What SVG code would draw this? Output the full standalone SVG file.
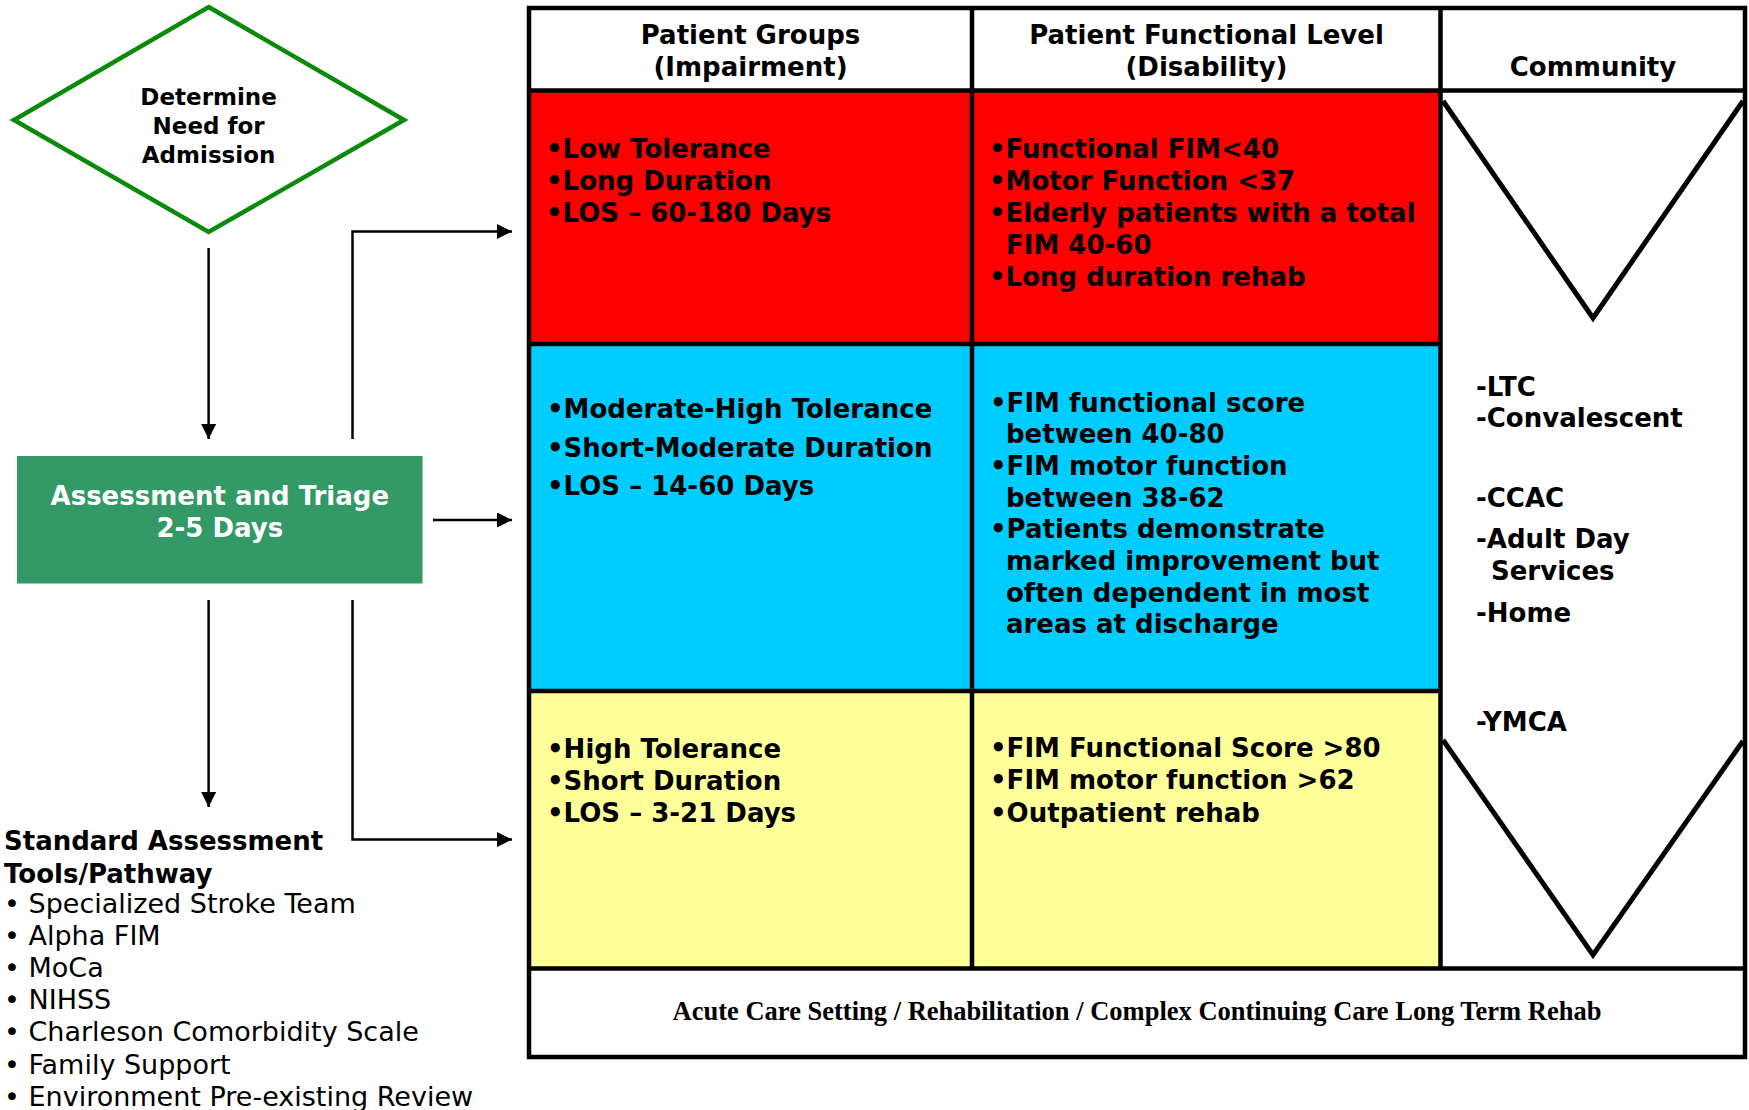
<svg xmlns="http://www.w3.org/2000/svg" width="1749" height="1110" viewBox="0 0 1749 1110">
<defs>
<style>
.b{font-family:"DejaVu Sans","Verdana",sans-serif;font-weight:bold;font-size:26px;fill:#000}
.d{font-size:23px}
.r{font-family:"DejaVu Sans","Verdana",sans-serif;font-size:27px;fill:#000}
.c{text-anchor:middle}
.w{fill:#fff}
.grid{stroke:#000;stroke-width:4.5;fill:none}
.conn{stroke:#000;stroke-width:2.5;fill:none}
.foot{font-family:"Liberation Serif","Times New Roman",serif;font-weight:bold;font-size:26.5px;text-anchor:middle;fill:#000}
</style>
<marker id="ah" markerUnits="userSpaceOnUse" markerWidth="16" markerHeight="15" viewBox="0 0 16 15" refX="15" refY="7.5" orient="auto">
<path d="M0,0 L15,7.5 L0,15 z" fill="#000"/>
</marker>
</defs>
<rect width="1749" height="1110" fill="#fff"/>

<g id="decision">
<polygon points="208.6,7 404,120 208.6,232 14,120" fill="#fff" stroke="#0a8a0a" stroke-width="4.5"/>
<text class="b c d" x="208.6" y="105">Determine</text>
<text class="b c d" x="208.6" y="134">Need for</text>
<text class="b c d" x="208.6" y="163">Admission</text>
</g>

<g id="triage">
<rect x="17" y="456" width="405.5" height="127.5" fill="#339966"/>
<text class="b c w" x="219.8" y="505">Assessment and Triage</text>
<text class="b c w" x="219.8" y="537">2-5 Days</text>
</g>

<g id="tools">
<text class="b" x="4" y="850">Standard Assessment</text>
<text class="b" x="4" y="882.5">Tools/Pathway</text>
<text class="r" x="4" y="913">• Specialized Stroke Team</text>
<text class="r" x="4" y="945">• Alpha FIM</text>
<text class="r" x="4" y="977">• MoCa</text>
<text class="r" x="4" y="1009">• NIHSS</text>
<text class="r" x="4" y="1041">• Charleson Comorbidity Scale</text>
<text class="r" x="4" y="1073.5">• Family Support</text>
<text class="r" x="4" y="1105.5">• Environment Pre-existing Review</text>
</g>

<g id="connectors">
<path class="conn" d="M208.6,248 V439" marker-end="url(#ah)"/>
<path class="conn" d="M208.6,600 V807" marker-end="url(#ah)"/>
<path class="conn" d="M352.5,439 V231.5 H512" marker-end="url(#ah)"/>
<path class="conn" d="M433,520 H512" marker-end="url(#ah)"/>
<path class="conn" d="M352.5,600 V839.6 H512" marker-end="url(#ah)"/>
</g>

<g id="table">
<rect x="529" y="8" width="1216" height="1049" fill="#fff"/>
<rect x="529" y="91" width="912" height="253" fill="#ff0000"/>
<rect x="529" y="344" width="912" height="347" fill="#00ccff"/>
<rect x="529" y="691" width="912" height="277" fill="#ffff99"/>
<rect class="grid" x="529" y="8" width="1216" height="1049"/>
<path class="grid" d="M529,90.5 H1745 M529,344 H1441 M529,691 H1441 M529,968.5 H1745 M972,8 V968.5 M1440.5,8 V968.5"/>
</g>

<g id="header-groups">
<text class="b c" x="750.5" y="44">Patient Groups</text>
<text class="b c" x="750.5" y="75.5">(Impairment)</text>
</g>
<g id="header-functional">
<text class="b c" x="1206.5" y="44">Patient Functional Level</text>
<text class="b c" x="1206.5" y="75.5">(Disability)</text>
</g>
<g id="header-community">
<text class="b c" x="1593" y="76">Community</text>
</g>

<g id="red-groups">
<text class="b" x="546" y="158">•Low Tolerance</text>
<text class="b" x="546" y="190">•Long Duration</text>
<text class="b" x="546" y="222">•LOS – 60-180 Days</text>
</g>
<g id="red-functional">
<text class="b" x="989" y="158">•Functional FIM&lt;40</text>
<text class="b" x="989" y="190">•Motor Function &lt;37</text>
<text class="b" x="989" y="222">•Elderly patients with a total</text>
<text class="b" x="1006" y="254">FIM 40-60</text>
<text class="b" x="989" y="286">•Long duration rehab</text>
</g>

<g id="cyan-groups">
<text class="b" x="547" y="418">•Moderate-High Tolerance</text>
<text class="b" x="547" y="456.5">•Short-Moderate Duration</text>
<text class="b" x="547" y="495">•LOS – 14-60 Days</text>
</g>
<g id="cyan-functional">
<text class="b" x="990" y="411.5">•FIM functional score</text>
<text class="b" x="1006" y="443.2">between 40-80</text>
<text class="b" x="990" y="474.9">•FIM motor function</text>
<text class="b" x="1006" y="506.6">between 38-62</text>
<text class="b" x="990" y="538.3">•Patients demonstrate</text>
<text class="b" x="1006" y="570">marked improvement but</text>
<text class="b" x="1006" y="601.7">often dependent in most</text>
<text class="b" x="1006" y="633.4">areas at discharge</text>
</g>

<g id="yellow-groups">
<text class="b" x="547" y="758">•High Tolerance</text>
<text class="b" x="547" y="790">•Short Duration</text>
<text class="b" x="547" y="822">•LOS – 3-21 Days</text>
</g>
<g id="yellow-functional">
<text class="b" x="990" y="757">•FIM Functional Score &gt;80</text>
<text class="b" x="990" y="789">•FIM motor function &gt;62</text>
<text class="b" x="990" y="821.5">•Outpatient rehab</text>
</g>

<g id="community">
<polyline points="1443,101 1593,318 1743,101" fill="none" stroke="#000" stroke-width="5"/>
<polyline points="1443,740 1593,955 1743,741" fill="none" stroke="#000" stroke-width="5"/>
<text class="b" x="1476" y="395.5">-LTC</text>
<text class="b" x="1476" y="427">-Convalescent</text>
<text class="b" x="1476" y="507">-CCAC</text>
<text class="b" x="1476" y="548">-Adult Day</text>
<text class="b" x="1491" y="580">Services</text>
<text class="b" x="1476" y="621.5">-Home</text>
<text class="b" x="1476" y="730.5">-YMCA</text>
</g>

<g id="footer">
<text class="foot" x="1137" y="1020">Acute Care Setting / Rehabilitation / Complex Continuing Care Long Term Rehab</text>
</g>
</svg>
